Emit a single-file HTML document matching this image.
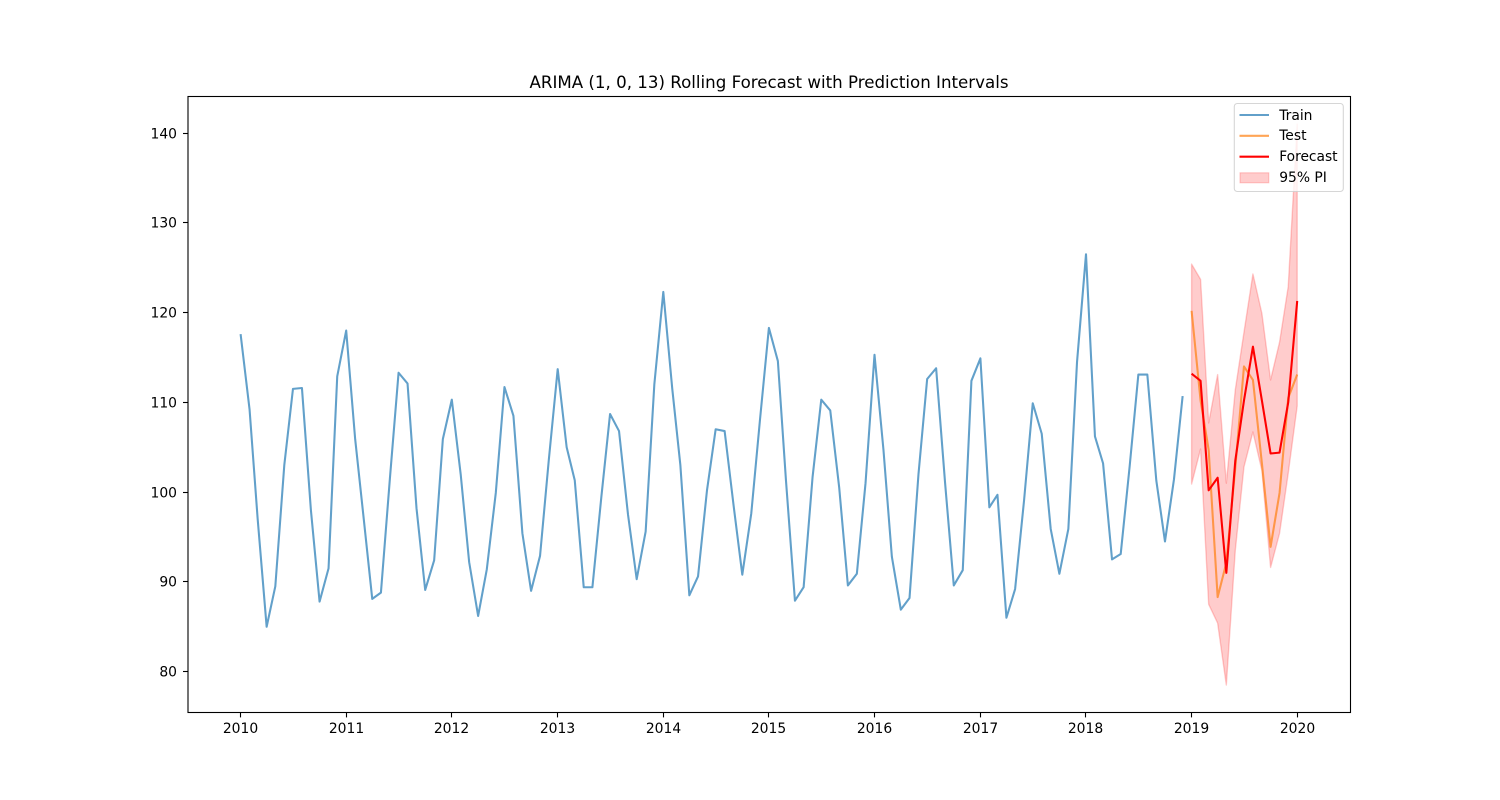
<!DOCTYPE html>
<html lang="en">
<head>
<meta charset="utf-8">
<title>ARIMA (1, 0, 13) Rolling Forecast with Prediction Intervals</title>
<style>
html,body{margin:0;padding:0;background:#fff;}
svg{display:block;font-family:"DejaVu Sans","Liberation Sans",sans-serif;}
</style>
</head>
<body>
<svg id="chart" xmlns="http://www.w3.org/2000/svg" width="1500" height="800" viewBox="0 0 1500 800">
  <rect x="0" y="0" width="1500" height="800" fill="#ffffff"/>
  <text x="769" y="88" font-size="16.67" text-anchor="middle" fill="#000">ARIMA (1, 0, 13) Rolling Forecast with Prediction Intervals</text>
  <g id="marks"></g>
  <g id="axes"></g>
  <rect x="188" y="96.5" width="1162.5" height="616" fill="none" stroke="#000" stroke-width="1.1"/>
  <g>
    <rect x="1234.3" y="103.5" width="109" height="88" rx="3" ry="3" fill="#fff" fill-opacity="0.8" stroke="#cccccc" stroke-opacity="0.8" stroke-width="1.1"/>
    <line x1="1239.5" x2="1269" y1="115" y2="115" stroke="#1f77b4" stroke-opacity="0.7" stroke-width="2.08"/>
    <text x="1279.2" y="119.8" font-size="13.89" fill="#000">Train</text>
    <line x1="1239.5" x2="1269" y1="135.8" y2="135.8" stroke="#ff7f0e" stroke-opacity="0.7" stroke-width="2.08"/>
    <text x="1279.2" y="140.2" font-size="13.89" fill="#000">Test</text>
    <line x1="1239.5" x2="1269" y1="156.7" y2="156.7" stroke="#ff0000" stroke-width="2.08"/>
    <text x="1279.2" y="161.2" font-size="13.8" fill="#000">Forecast</text>
    <rect x="1240" y="172.8" width="28.8" height="10" fill="#ff0000" fill-opacity="0.2" stroke="#ff0000" stroke-opacity="0.2" stroke-width="1.1"/>
    <text x="1279.2" y="182" font-size="13.89" fill="#000">95% PI</text>
  </g>
</svg>
<script>
const trainStartYear = 2010;
const testStartYear = 2019;
const xTickLabels = [2010, 2011, 2012, 2013, 2014, 2015, 2016, 2017, 2018, 2019, 2020];
const yTickLabels = [80, 90, 100, 110, 120, 130, 140];
const trainValues = [
  117.6, 109.2, 97.0, 85.0, 89.5, 103.0, 111.5, 111.6, 98.0, 87.8, 91.5, 112.9,
  118.0, 105.9, 97.5, 88.1, 88.8, 101.5, 113.3, 112.1, 98.2, 89.1, 92.4, 105.9,
  110.3, 101.9, 92.2, 86.2, 91.4, 99.9, 111.7, 108.5, 95.4, 89.0, 92.9, 103.5,
  113.7, 105.0, 101.3, 89.4, 89.4, 99.5, 108.7, 106.8, 97.5, 90.3, 95.6, 112.0,
  122.3, 111.5, 103.0, 88.5, 90.6, 100.2, 107.0, 106.8, 98.5, 90.8, 97.6, 108.0,
  118.3, 114.6, 101.3, 87.9, 89.4, 101.7, 110.3, 109.1, 100.5, 89.6, 90.9, 101.0,
  115.3, 104.7, 92.8, 86.9, 88.2, 102.0, 112.6, 113.8, 101.0, 89.6, 91.3, 112.4,
  114.9, 98.3, 99.7, 86.0, 89.2, 99.1, 109.9, 106.5, 95.9, 90.9, 95.9, 114.5,
  126.5, 106.2, 103.2, 92.5, 93.1, 102.9, 113.1, 113.1, 101.3, 94.5, 101.4, 110.7
];
const testValues = [120.2, 110.2, 104.7, 88.3, 92.1, 102.7, 114.0, 112.5, 103.2, 93.9, 99.9, 110.5, 113.1];
const forecastValues = [113.2, 112.4, 100.2, 101.6, 91.0, 103.5, 110.2, 116.2, 110.2, 104.3, 104.4, 110.0, 121.3];
const upperValues = [125.4, 123.7, 107.7, 113.1, 101.0, 111.4, 117.8, 124.3, 119.9, 112.5, 116.7, 122.9, 141.0];
const lowerValues = [100.9, 104.8, 87.5, 85.4, 78.5, 93.5, 102.8, 106.7, 102.4, 91.6, 95.4, 102.1, 109.6];

const SVG_NS = 'http://www.w3.org/2000/svg';

function dayNumber(year, monthIndex) {
  return Date.UTC(year, monthIndex, 1) / 86400000;
}
const day2010 = dayNumber(2010, 0);
const day2020 = dayNumber(2020, 0);
function xScale(day) {
  return 240.6 + (day - day2010) * (1297.2 - 240.6) / (day2020 - day2010);
}
function yScale(value) {
  return 133.1 + (140 - value) * (671.6 - 133.1) / 60;
}
function seriesPoints(values, startYear) {
  return values.map(function (v, i) {
    const px = xScale(dayNumber(startYear, i));
    const py = yScale(v);
    return px.toFixed(2) + ',' + py.toFixed(2);
  });
}

const marks = document.getElementById('marks');
const axes = document.getElementById('axes');

/* prediction interval band */
const band = document.createElementNS(SVG_NS, 'polygon');


band.setAttribute('points', seriesPoints(upperValues, testStartYear).concat(seriesPoints(lowerValues, testStartYear).reverse()).join(' '));
band.setAttribute('fill', '#ff0000');
band.setAttribute('fill-opacity', '0.2');
band.setAttribute('stroke', '#ff0000');
band.setAttribute('stroke-opacity', '0.2');
band.setAttribute('stroke-width', '1.39');
band.setAttribute('stroke-linejoin', 'round');
marks.appendChild(band);

/* train line */
const trainLine = document.createElementNS(SVG_NS, 'polyline');


trainLine.setAttribute('points', seriesPoints(trainValues, trainStartYear).join(' '));
trainLine.setAttribute('fill', 'none');
trainLine.setAttribute('stroke', '#1f77b4');
trainLine.setAttribute('stroke-opacity', '0.7');
trainLine.setAttribute('stroke-width', '2.08');
trainLine.setAttribute('stroke-linejoin', 'round');
marks.appendChild(trainLine);

/* test line */
const testLine = document.createElementNS(SVG_NS, 'polyline');


testLine.setAttribute('points', seriesPoints(testValues, testStartYear).join(' '));
testLine.setAttribute('fill', 'none');
testLine.setAttribute('stroke', '#ff7f0e');
testLine.setAttribute('stroke-opacity', '0.7');
testLine.setAttribute('stroke-width', '2.08');
testLine.setAttribute('stroke-linejoin', 'round');
marks.appendChild(testLine);

/* forecast line */
const forecastLine = document.createElementNS(SVG_NS, 'polyline');


forecastLine.setAttribute('points', seriesPoints(forecastValues, testStartYear).join(' '));
forecastLine.setAttribute('fill', 'none');
forecastLine.setAttribute('stroke', '#ff0000');
forecastLine.setAttribute('stroke-width', '2.08');
forecastLine.setAttribute('stroke-linejoin', 'round');
marks.appendChild(forecastLine);

/* x axis */
xTickLabels.forEach(function (year) {
  const px = Math.floor(xScale(dayNumber(year, 0))) + 0.5;
  const tick = document.createElementNS(SVG_NS, 'line');
  
  
  tick.setAttribute('x1', px);
  tick.setAttribute('x2', px);
  tick.setAttribute('y1', 712.5);
  tick.setAttribute('y2', 717.4);
  tick.setAttribute('stroke', '#000');
  tick.setAttribute('stroke-width', '1.1');
  axes.appendChild(tick);
  const label = document.createElementNS(SVG_NS, 'text');
  
  
  label.setAttribute('x', px);
  label.setAttribute('y', 733);
  label.setAttribute('font-size', '13.89');
  label.setAttribute('text-anchor', 'middle');
  label.setAttribute('fill', '#000');
  label.textContent = String(year);
  axes.appendChild(label);
});

/* y axis */
yTickLabels.forEach(function (value) {
  const py = Math.floor(yScale(value)) + 0.5;
  const tick = document.createElementNS(SVG_NS, 'line');
  
  
  tick.setAttribute('x1', 183);
  tick.setAttribute('x2', 188);
  tick.setAttribute('y1', py);
  tick.setAttribute('y2', py);
  tick.setAttribute('stroke', '#000');
  tick.setAttribute('stroke-width', '1.1');
  axes.appendChild(tick);
  const label = document.createElementNS(SVG_NS, 'text');
  
  
  label.setAttribute('x', 177);
  label.setAttribute('y', py + 5);
  label.setAttribute('font-size', '13.89');
  label.setAttribute('text-anchor', 'end');
  label.setAttribute('fill', '#000');
  label.textContent = String(value);
  axes.appendChild(label);
});
</script>
</body>
</html>
